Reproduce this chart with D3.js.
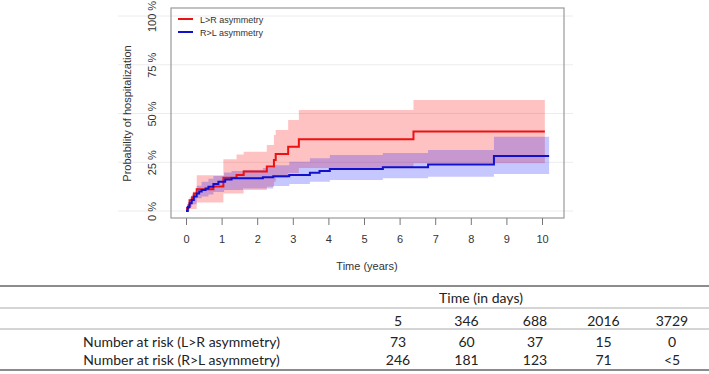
<!DOCTYPE html>
<html>
<head>
<meta charset="utf-8">
<script src="https://cdn.jsdelivr.net/npm/d3@7/dist/d3.min.js"></script>
<style>
  html, body { margin: 0; padding: 0; background: #fff; }
  svg { display: block; }
</style>
</head>
<body>
<div id="js-chart"></div>
<script>
// 曲线数据 [years, %]
var redEst = [[0,0],[0.03,1.5],[0.07,3],[0.1,5.5],[0.17,7],[0.22,9],[0.3,11.1],[0.77,12.6],[1.05,17],[1.42,18.5],[1.62,20.3],[2.27,22.8],[2.47,26.2],[2.52,29.2],[2.87,33],[3.17,36.8],[6.39,40.8],[10.08,40.8]];
var redLow = [[0,0],[0.1,1],[0.3,4.3],[1.05,9],[1.62,10.8],[2.27,12.5],[2.47,15],[2.52,17],[2.87,19.5],[3.17,22],[6.39,24.5],[10.08,24.5]];
var redUp = [[0,0],[0.05,3],[0.1,7],[0.2,10],[0.3,18.3],[1.05,26.5],[1.42,29],[1.62,30.4],[2.27,33.8],[2.47,39],[2.52,41.5],[2.87,46.7],[3.17,51.8],[6.39,56.9],[10.08,56.9]];

var blueEst = [[0,0],[0.05,2],[0.1,4],[0.16,5.6],[0.22,7.5],[0.3,9],[0.37,10],[0.44,10.8],[0.55,11.5],[0.63,12.5],[0.77,13.8],[0.91,15],[1.1,16.2],[1.28,16.8],[2.16,17.3],[2.45,17.8],[2.9,18.5],[3.48,19.6],[3.75,20.5],[4.04,21.5],[5.53,22.5],[6.8,23.8],[8.65,28.2],[10.2,28.2]];
var blueLow = [[0,0],[0.1,2],[0.16,3.5],[0.3,6.5],[0.44,7.5],[0.63,8.5],[0.77,9.8],[1.07,10.8],[1.6,11.6],[2.45,12.8],[2.9,13.8],[3.48,15],[4.04,15.9],[5.53,16.8],[6.8,17.6],[8.65,19],[10.2,19]];
var blueUp = [[0,0],[0.1,6],[0.16,8.5],[0.3,13],[0.44,15],[0.63,16.5],[0.77,18],[1.07,19.8],[1.28,20.5],[1.6,21],[2.16,22],[2.45,23.5],[2.9,25.3],[3.48,27],[4.04,28.7],[5.53,29.8],[6.8,31.3],[8.65,38.1],[10.2,38.1]];

var xTicks = [0,1,2,3,4,5,6,7,8,9,10];
var yTicks = [0,25,50,75,100];
var legendLabels = ["L>R asymmetry", "R>L asymmetry"];

// 风险表
var riskDays = ["5", "346", "688", "2016", "3729"];
var riskLabels = ["Number at risk (L>R asymmetry)", "Number at risk (R>L asymmetry)"];
var riskLR = ["73", "60", "37", "15", "0"];
var riskRL = ["246", "181", "123", "71", "<5"];

var W = 709, H = 374;
var svg = d3.select("#js-chart").append("svg")
    .attr("width", W)
    .attr("height", H);

var x = d3.scaleLinear().domain([0, 10]).range([186, 542]);
var y = d3.scaleLinear().domain([0, 100]).range([211, 16]);

// step value lookup
function stepAt(arr, t) {
    var v = arr[0][1];
    arr.forEach(function (d) { if (d[0] <= t) v = d[1]; });
    return v;
}
function band(low, up) {
    var ts = d3.sort(Array.from(new Set(low.map(d => d[0]).concat(up.map(d => d[0])))));
    return ts.map(function (t) { return [t, stepAt(low, t), stepAt(up, t)]; });
}

// 网格线
svg.append("g").selectAll("line").data(yTicks).join("line")
    .attr("x1", 118).attr("x2", 573)
    .attr("y1", d => y(d)).attr("y2", d => y(d))
    .attr("stroke", "#ececec").attr("stroke-width", 1);

var area = d3.area()
    .curve(d3.curveStepAfter)
    .x(d => x(d[0]))
    .y0(d => y(d[1]))
    .y1(d => y(d[2]));

svg.append("path").datum(band(redLow, redUp))
    .attr("d", area)
    .attr("fill", "rgba(255,0,0,0.24)");
svg.append("path").datum(band(blueLow, blueUp))
    .attr("d", area)
    .attr("fill", "rgba(0,0,255,0.22)");

var line = d3.line()
    .curve(d3.curveStepAfter)
    .x(d => x(d[0]))
    .y(d => y(d[1]));

svg.append("path").datum(redEst)
    .attr("d", line).attr("fill", "none")
    .attr("stroke", "#ee1111").attr("stroke-width", 2);
svg.append("path").datum(blueEst)
    .attr("d", line).attr("fill", "none")
    .attr("stroke", "#1111cc").attr("stroke-width", 2);

// 边框
svg.append("rect")
    .attr("x", 171).attr("y", 8)
    .attr("width", 393).attr("height", 210)
    .attr("fill", "none").attr("stroke", "#999").attr("stroke-width", 1.2);

// x 轴
var xAxis = svg.append("g")
    .attr("transform", "translate(0,218)")
    .call(d3.axisBottom(x).tickValues(xTicks).tickFormat(d3.format("d")).tickSize(7).tickPadding(10));
xAxis.select(".domain").remove();
xAxis.selectAll("line").attr("stroke", "#777");
xAxis.selectAll("text")
    .attr("font-family", "Liberation Sans, Arial, sans-serif")
    .attr("font-size", 11).attr("fill", "#333");

// y 轴
var yAxis = svg.append("g")
    .attr("transform", "translate(171,0)")
    .call(d3.axisLeft(y).tickValues(yTicks).tickFormat(d => d + " %").tickSize(0));
yAxis.select(".domain").remove();
yAxis.selectAll("text")
    .attr("x", null).attr("dy", null)
    .attr("transform", "translate(-15,0) rotate(-90)")
    .attr("text-anchor", "middle")
    .attr("font-family", "Liberation Sans, Arial, sans-serif")
    .attr("font-size", 11).attr("fill", "#333");

svg.append("text")
    .attr("transform", "translate(131,113.5) rotate(-90)")
    .attr("text-anchor", "middle")
    .attr("font-family", "Liberation Sans, Arial, sans-serif")
    .attr("font-size", 11).attr("fill", "#333")
    .text("Probability of hospitalization");

svg.append("text")
    .attr("x", 367).attr("y", 270)
    .attr("text-anchor", "middle")
    .attr("font-family", "Liberation Sans, Arial, sans-serif")
    .attr("font-size", 11).attr("fill", "#333")
    .text("Time (years)");

// 图例
var legColors = ["#ee1111", "#1111cc"];
var leg = svg.append("g").selectAll("g").data(legendLabels).join("g")
    .attr("transform", (d, i) => "translate(178," + (19 + i * 13) + ")");
leg.append("line")
    .attr("x1", 0).attr("x2", 15)
    .attr("stroke", (d, i) => legColors[i]).attr("stroke-width", 2);
leg.append("text")
    .attr("x", 22).attr("y", 3.5)
    .attr("font-family", "Liberation Sans, Arial, sans-serif")
    .attr("font-size", 9).attr("fill", "#333")
    .text(d => d);

// 风险表
var colX = d3.scalePoint().domain(riskDays).range([398, 672]);
var tFont = "Lato, 'Open Sans', sans-serif";

[[286, "#666", 1.5], [308, "#aaa", 1], [329, "#aaa", 1], [370, "#666", 1.5]].forEach(function (l) {
    svg.append("line")
        .attr("x1", 0).attr("x2", W)
        .attr("y1", l[0]).attr("y2", l[0])
        .attr("stroke", l[1]).attr("stroke-width", l[2]);
});

svg.append("text")
    .attr("x", 481).attr("y", 303)
    .attr("text-anchor", "middle")
    .attr("font-family", tFont).attr("font-size", 14).attr("fill", "#222")
    .text("Time (in days)");

var rows = [
    {y: 326, cells: riskDays},
    {y: 347, cells: riskLR, label: riskLabels[0]},
    {y: 365, cells: riskRL, label: riskLabels[1]}
];
rows.forEach(function (r) {
    svg.append("g").selectAll("text").data(r.cells).join("text")
        .attr("x", (d, i) => colX(riskDays[i]))
        .attr("y", r.y)
        .attr("text-anchor", "middle")
        .attr("font-family", tFont).attr("font-size", 14).attr("fill", "#222")
        .text(d => d);
    if (r.label) {
        svg.append("text")
            .attr("x", 181.5).attr("y", r.y)
            .attr("text-anchor", "middle")
            .attr("font-family", tFont).attr("font-size", 14).attr("fill", "#222")
            .text(r.label);
    }
});
</script>
</body>
</html>
